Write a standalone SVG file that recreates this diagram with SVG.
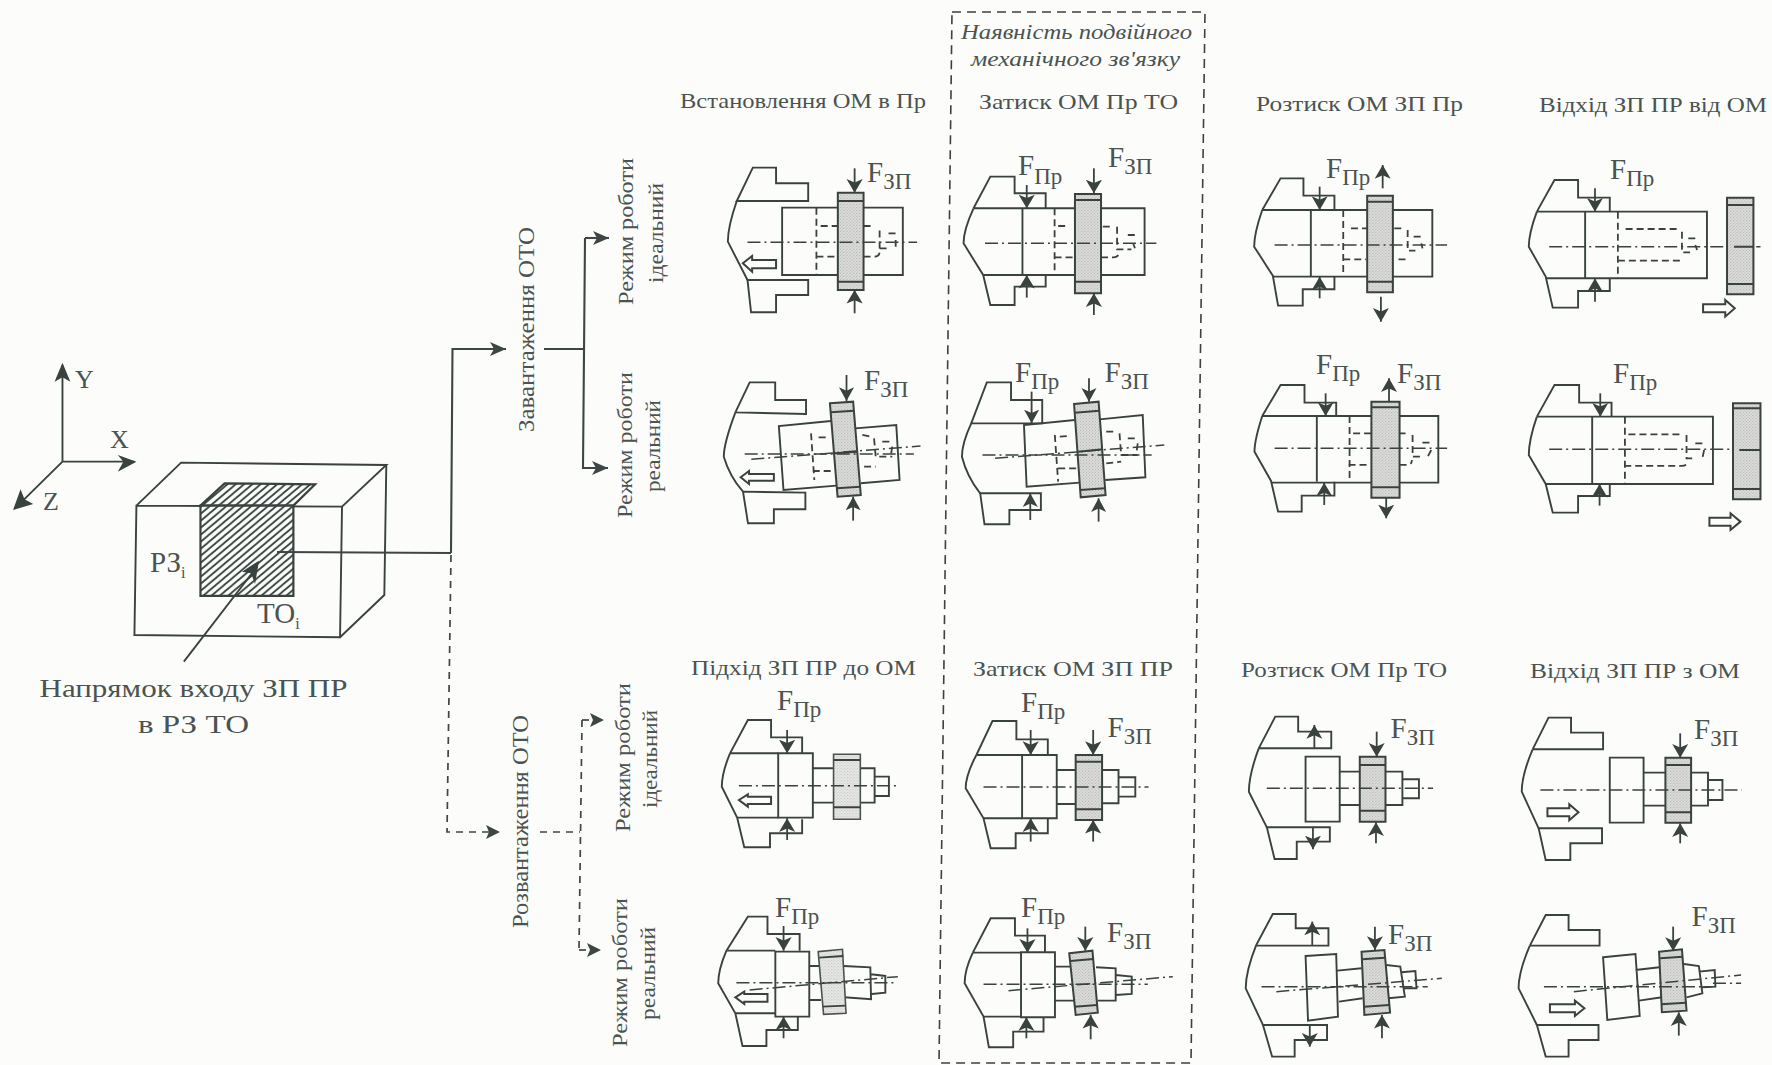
<svg xmlns="http://www.w3.org/2000/svg" width="1772" height="1065" viewBox="0 0 1772 1065">
<style>
text{font-family:"Liberation Serif","Times New Roman",serif;fill:#4b5351}
.h{font-size:22px}
.i{font-size:21px;font-style:italic}
.r{font-size:22px}
.f{font-size:29px}
.s{font-size:23px}
.l{fill:none;stroke:#39423f;stroke-width:1.9;vector-effect:non-scaling-stroke;stroke-linejoin:miter}
.t{fill:none;stroke:#39423f;stroke-width:2;vector-effect:non-scaling-stroke}
.d{fill:none;stroke:#39423f;stroke-width:1.8;stroke-dasharray:7 4;vector-effect:non-scaling-stroke}
.a{fill:none;stroke:#39423f;stroke-width:1.5;stroke-dasharray:13 4 2 4;vector-effect:non-scaling-stroke}
.g{fill:url(#stip);stroke:#39423f;stroke-width:2;vector-effect:non-scaling-stroke}
.g2{fill:url(#stip2);stroke:#4a5250;stroke-width:1.6;vector-effect:non-scaling-stroke}
.o{fill:#fdfdfb;stroke:#39423f;stroke-width:2;vector-effect:non-scaling-stroke}
.fa{fill:none;stroke:#39423f;stroke-width:1.8;vector-effect:non-scaling-stroke;marker-end:url(#mz)}
.c{fill:none;stroke:#3d4644;stroke-width:2.1;marker-end:url(#ma)}
.cn{fill:none;stroke:#3d4644;stroke-width:2.1}
.cd{fill:none;stroke:#3d4644;stroke-width:1.7;stroke-dasharray:7 6}
</style>
<defs>
<marker id="mz" markerUnits="userSpaceOnUse" markerWidth="46" markerHeight="50" refX="36" refY="22" orient="auto" viewBox="0 0 40 44"><path d="M36,22 L0,2 L9,22 L0,42 Z" fill="#39423f"/></marker>
<marker id="ma" markerUnits="userSpaceOnUse" markerWidth="18" markerHeight="16" refX="16" refY="8" orient="auto" viewBox="0 0 18 16"><path d="M16,8 L0,1 L4,8 L0,15 Z" fill="#3d4644"/></marker>
<pattern id="stip" patternUnits="userSpaceOnUse" width="9" height="9"><rect width="9" height="9" fill="#dcdcda"/><rect x="0" y="0" width="3" height="3" fill="#b4b6b3"/><rect x="5" y="4" width="3" height="3" fill="#bcbebb"/><rect x="2" y="7" width="2" height="2" fill="#c2c4c1"/></pattern>
<pattern id="stip2" patternUnits="userSpaceOnUse" width="9" height="9"><rect width="9" height="9" fill="#e6e6e4"/><rect x="0" y="0" width="3" height="3" fill="#c6c8c5"/><rect x="5" y="4" width="3" height="3" fill="#ccceca"/></pattern>
<pattern id="hatch" patternUnits="userSpaceOnUse" width="21" height="21"><path d="M-5,26 L26,-5 M-5,5 L5,-5 M16,26 L26,16" stroke="#39423f" stroke-width="5" fill="none"/></pattern>
</defs>
<rect width="1772" height="1065" fill="#fcfdfb"/>

<g id="workpiece-block" transform="translate(0,340) scale(0.3954,0.3333)">
<path class="l" d="M158,365 V75"/><path class="l" d="M158,365 H340"/><path class="l" d="M158,365 L38,505"/>
<path d="M158,68 L138,125 L158,112 L178,125 Z M345,365 L298,345 L312,365 L298,395 Z M33,510 L84,492 L62,478 L52,448 Z" fill="#39423f"/>
<path class="l" d="M345,497 L865,500 L860,892 L340,885 Z M345,497 L458,368 L977,375 L865,500 M977,375 L972,765 L860,892"/>
<path d="M507,497 L568,430 L797,433 L742,497 Z" fill="url(#hatch)" stroke="#39423f" stroke-width="2.2" vector-effect="non-scaling-stroke"/>
<rect x="507" y="497" width="235" height="271" fill="#fcfdfb"/>
<rect x="507" y="497" width="235" height="271" fill="url(#hatch)" stroke="#39423f" stroke-width="2.2" vector-effect="non-scaling-stroke"/>
<path class="l" d="M465,965 L650,680"/><path d="M655,662 L612,695 L635,700 L645,732 Z" fill="#39423f"/>
</g>
<g id="axis-labels">
<text x="75" y="388" style="font-size:26px">Y</text><text x="110" y="448" style="font-size:26px">X</text><text x="43" y="510" style="font-size:26px">Z</text>
<text x="150" y="572" style="font-size:29px">РЗ<tspan style="font-size:16px" dy="6">і</tspan></text>
<text x="257" y="623" style="font-size:29px">ТО<tspan style="font-size:16px" dy="6">і</tspan></text>
<text x="39.5" y="697" style="font-size:25px" textLength="308" lengthAdjust="spacingAndGlyphs">Напрямок входу ЗП ПР</text>
<text x="138" y="733" style="font-size:25px" textLength="111" lengthAdjust="spacingAndGlyphs">в РЗ ТО</text>
</g>

<g id="connectors">
<path class="cn" d="M277,552 L451,553"/>
<path class="c" d="M451,553 L452.5,349 H506"/>
<path class="cn" d="M544,349 H585"/>
<path class="c" d="M585,238 H609"/><path class="c" d="M585,238 L583,468 H608"/>
<path class="cd" d="M451,555 L447,832 H498"/><path d="M500,832 L486,825 L489,832 L486,839 Z" fill="#3d4644"/>
<path class="cd" d="M540,832 H580"/>
<path class="cd" d="M582,720 L579,950"/>
<path class="cd" d="M582,720 H592"/><path d="M604,720 L590,713 L593,720 L590,727 Z" fill="#3d4644"/>
<path class="cd" d="M579,950 H588"/><path d="M601,950 L587,943 L590,950 L587,957 Z" fill="#3d4644"/>
</g>
<g id="group-labels">
<text transform="translate(534,432) rotate(-90)" textLength="205" lengthAdjust="spacingAndGlyphs" style="font-size:23px">Завантаження ОТО</text>
<text class="r" transform="translate(633,305) rotate(-90)" textLength="147" lengthAdjust="spacingAndGlyphs">Режим роботи</text>
<text class="r" transform="translate(663,283) rotate(-90)" textLength="100" lengthAdjust="spacingAndGlyphs">ідеальний</text>
<text class="r" transform="translate(632,518) rotate(-90)" textLength="146" lengthAdjust="spacingAndGlyphs">Режим роботи</text>
<text class="r" transform="translate(660,492) rotate(-90)" textLength="92" lengthAdjust="spacingAndGlyphs">реальний</text>
<text transform="translate(528,928) rotate(-90)" textLength="213" lengthAdjust="spacingAndGlyphs" style="font-size:23px">Розвантаження ОТО</text>
<text class="r" transform="translate(630,832) rotate(-90)" textLength="149" lengthAdjust="spacingAndGlyphs">Режим роботи</text>
<text class="r" transform="translate(657,808) rotate(-90)" textLength="98" lengthAdjust="spacingAndGlyphs">ідеальний</text>
<text class="r" transform="translate(627,1047) rotate(-90)" textLength="149" lengthAdjust="spacingAndGlyphs">Режим роботи</text>
<text class="r" transform="translate(655,1020) rotate(-90)" textLength="93" lengthAdjust="spacingAndGlyphs">реальний</text>
</g>
<g id="double-link-frame">
<path class="d" d="M952,12 H1205 L1191,1063 H939 Z" style="stroke-width:1.6;stroke-dasharray:9 6"/>
<text class="i" x="961" y="39" textLength="231" lengthAdjust="spacingAndGlyphs">Наявність подвійного</text>
<text class="i" x="971" y="66" textLength="209" lengthAdjust="spacingAndGlyphs">механічного зв'язку</text>
</g>
<g id="headers">
<text class="h" x="680" y="108" textLength="246" lengthAdjust="spacingAndGlyphs">Встановлення ОМ в Пр</text>
<text class="h" x="979" y="109" textLength="199" lengthAdjust="spacingAndGlyphs">Затиск ОМ Пр ТО</text>
<text class="h" x="1256" y="111" textLength="207" lengthAdjust="spacingAndGlyphs">Розтиск ОМ ЗП Пр</text>
<text class="h" x="1539" y="112" textLength="228" lengthAdjust="spacingAndGlyphs">Відхід ЗП ПР від ОМ</text>
<text class="h" x="691" y="675" textLength="225" lengthAdjust="spacingAndGlyphs">Підхід ЗП ПР до ОМ</text>
<text class="h" x="973" y="676" textLength="200" lengthAdjust="spacingAndGlyphs">Затиск ОМ ЗП ПР</text>
<text class="h" x="1241" y="677" textLength="206" lengthAdjust="spacingAndGlyphs">Розтиск ОМ Пр ТО</text>
<text class="h" x="1530" y="678" textLength="210" lengthAdjust="spacingAndGlyphs">Відхід ЗП ПР з ОМ</text>
</g>

<g id="p11" transform="translate(660,0) scale(0.3571,0.3333)">
<path class="l" d="M215,603 L260,503 H325 V550 H415 V603 Z"/>
<path class="l" d="M215,603 Q190,680 190,725 L245,840"/>
<path class="l" d="M245,840 H415 V885 H325 V937 H255 Z"/>
<rect class="l" x="342" y="623" width="338" height="202"/>
<path class="d" d="M438,623 V825 M450,678 H500 M570,678 H595 M438,770 H500 M570,770 H600 Q615,770 615,755 V680 M615,745 H640 M640,700 H660 M660,720 V740"/>
<rect class="g" x="498" y="578" width="72" height="292"/>
<path class="t" d="M498,603 H570 M498,845 H570"/>
<path class="a" d="M245,727 H720"/>
<path class="o" d="M232,790 L258,768 V780 H325 V805 H258 V815 Z"/>
<path class="fa" d="M545,505 V578"/><path class="fa" d="M545,940 V870"/>
</g>
<g id="p12" transform="translate(660,0) scale(0.3571,0.3333)">
<path class="l" d="M878,625 L925,530 H993 V580 H1080 V625 M878,625 H1357 V825 H905"/>
<path class="l" d="M878,625 Q850,690 850,730 L905,825 L925,915 H993 V860 H1080 V825"/>
<path class="l" d="M1015,625 V825"/>
<path class="d" d="M1105,625 V825 M1115,678 H1140 M1240,680 H1262 M1105,772 H1165 M1235,772 H1270 Q1285,772 1285,755 M1280,680 V748 H1320 M1310,705 H1330 M1325,730 L1330,745"/>
<rect class="g" x="1162" y="582" width="73" height="298"/>
<path class="t" d="M1162,600 H1235 M1162,845 H1235"/>
<path class="a" d="M910,730 H1390"/>
<path class="fa" d="M1215,505 V580"/><path class="fa" d="M1215,945 V880"/><path class="fa" d="M1027,555 V625"/><path class="fa" d="M1027,893 V825"/>
</g>
<g id="p13" transform="translate(1220,130) scale(0.3521,0.3333)">
<path class="l" d="M120,240 L172,145 H237 V197 H325 V240 M120,240 H603 V440 H150"/>
<path class="l" d="M120,240 Q97,310 97,350 L150,437 L165,527 H235 V478 H325 V440"/>
<path class="l" d="M258,240 V440"/>
<path class="d" d="M350,240 V440 M372,295 H420 M495,295 H520 M350,388 H415 M507,388 H530 M533,300 V362 H555 M550,320 H572 M572,340 L575,355"/>
<rect class="g" x="418" y="197" width="73" height="290"/>
<path class="t" d="M418,215 H491 M418,455 H491"/>
<path class="a" d="M155,345 H645"/>
<path class="fa" d="M462,175 V105"/><path class="fa" d="M457,500 V575"/><path class="fa" d="M283,170 V240"/><path class="fa" d="M283,505 V440"/>
</g>
<g id="p14" transform="translate(1220,130) scale(0.3521,0.3333)">
<path class="l" d="M900,245 L950,150 H1017 V203 H1107 V245 M900,245 H1383 V445 H925"/>
<path class="l" d="M900,245 Q877,310 877,350 L925,440 L945,533 H1017 V483 H1107 V445"/>
<path class="l" d="M1037,245 V445"/>
<path class="d" d="M1130,245 V445 M1152,297 H1300 M1130,392 H1310 M1312,305 V367 H1335 M1330,325 H1350 M1350,345 L1355,360"/>
<path class="a" d="M935,350 H1535"/>
<rect class="g" x="1440" y="203" width="75" height="290"/>
<path class="t" d="M1440,225 H1515 M1440,462 H1515 M1460,350 H1515"/>
<path class="o" d="M1462,535 L1435,510 V523 H1372 V547 H1435 V560 Z"/>
<path class="fa" d="M1065,175 V245"/><path class="fa" d="M1065,515 V445"/>
</g>
<g id="p21" transform="translate(680,340) scale(0.3317,0.3333)">
<path class="l" d="M167,217 L210,127 H287 V180 H380 V222 L167,217"/>
<path class="l" d="M167,217 Q132,310 132,350 Q150,410 190,455"/>
<path class="l" d="M190,455 L378,458 V508 H283 V550 H205 Z"/>
<path class="l" d="M455,243 L298,258 L312,450 L472,437 M528,265 L652,255 L662,420 L545,430"/>
<path class="d" d="M395,280 L405,420 M418,292 H445 M550,285 L575,290 M400,393 H455 M555,380 H590 M585,295 L590,350 H640 M610,305 H640 M640,320 L635,350"/>
<path class="g" d="M452,190 L522,185 L545,465 L475,470 Z"/>
<path class="t" d="M455,217 L524,212 M473,445 L543,440 M465,340 L535,335"/>
<path class="a" d="M195,342 H705"/><path class="a" d="M215,358 L725,318"/>
<path class="o" d="M183,412 L208,393 V402 H283 V422 H208 V432 Z"/>
<path class="fa" d="M502,105 V183"/><path class="fa" d="M522,542 V470"/>
</g>
<g id="p22" transform="translate(680,340) scale(0.3317,0.3333)">
<path class="l" d="M878,250 L925,127 H998 V180 H1092 V250 Z"/>
<path class="l" d="M878,250 Q850,310 850,350 Q865,410 905,460"/>
<path class="l" d="M905,460 H1088 V510 H993 V553 H918 Z"/>
<path class="l" d="M1190,240 L1037,255 L1045,440 L1205,428 M1265,238 L1395,225 L1403,412 L1282,420"/>
<path class="d" d="M1130,285 L1140,425 M1145,290 L1175,288 M1285,275 H1310 M1140,385 H1200 M1285,370 L1330,365 M1325,280 L1330,345 H1380 M1350,295 H1380 M1380,310 L1375,345"/>
<path class="g" d="M1188,192 L1262,185 L1283,465 L1208,472 Z"/>
<path class="t" d="M1190,218 L1264,212 M1206,450 L1281,445 M1200,335 L1275,328"/>
<path class="a" d="M912,345 H1422"/><path class="a" d="M950,355 L1460,315"/>
<path class="fa" d="M1233,115 V185"/><path class="fa" d="M1262,545 V475"/><path class="fa" d="M1060,155 V250"/><path class="fa" d="M1056,540 V460"/>
</g>
<g id="p23" transform="translate(1220,130) scale(0.3521,0.3333)">
<path class="l" d="M120,858 L172,765 H240 V818 H330 V858 M120,858 H620 V1058 H145"/>
<path class="l" d="M120,858 Q98,930 98,965 L145,1053 L165,1145 H232 V1097 H325 V1055"/>
<path class="l" d="M275,858 V1055"/>
<path class="d" d="M368,858 V1055 M378,910 H430 M510,910 H527 M365,1005 H425 M510,1005 H530 Q545,1005 545,990 M547,915 V980 H570 M575,938 H597 M600,960 L590,980"/>
<rect class="g" x="430" y="815" width="80" height="288"/>
<path class="t" d="M430,832 H510 M430,1072 H510"/>
<path class="a" d="M155,955 H645"/>
<path class="fa" d="M480,815 V745"/><path class="fa" d="M472,1105 V1165"/><path class="fa" d="M300,790 V858"/><path class="fa" d="M296,1125 V1058"/>
</g>
<g id="p24" transform="translate(1220,130) scale(0.3521,0.3333)">
<path class="l" d="M900,860 L950,765 H1020 V818 H1112 V860 M900,860 H1400 V1062 H925"/>
<path class="l" d="M900,860 Q877,930 877,975 L925,1062 L945,1148 H1017 V1098 H1107 V1062"/>
<path class="l" d="M1057,860 V1062"/>
<path class="d" d="M1150,860 V1062 M1160,913 H1305 M1148,1008 H1310 Q1328,1008 1328,995 M1325,915 V985 H1350 M1350,940 H1375 M1375,960 L1370,985"/>
<path class="a" d="M935,958 H1535"/>
<rect class="g" x="1457" y="820" width="78" height="288"/>
<path class="t" d="M1457,835 H1535 M1457,1077 H1535 M1475,960 H1535"/>
<path class="o" d="M1478,1175 L1450,1150 V1163 H1390 V1187 H1450 V1200 Z"/>
<path class="fa" d="M1080,790 V860"/><path class="fa" d="M1078,1127 V1062"/>
</g>
<g id="p31" transform="translate(680,660) scale(0.3571,0.3333)">
<path class="l" d="M140,280 L190,180 H255 V232 H342 V280 M140,280 H275 M160,473 H275"/>
<path class="l" d="M140,280 Q117,340 117,380 L160,473 L180,562 H252 V520 H342 V478"/>
<rect class="l" x="275" y="280" width="97" height="193"/>
<path class="l" d="M372,325 H430 M372,428 H430 M505,325 H545 V428 H505 M545,350 H585 V408 H545"/>
<rect class="g2" x="430" y="283" width="75" height="195"/>
<path class="l" d="M430,300 H505 M430,442 H505"/>
<path class="a" d="M165,377 H610"/>
<path class="o" d="M165,420 L190,403 V410 H255 V432 H190 V440 Z"/>
<path class="fa" d="M300,210 V280"/><path class="fa" d="M300,540 V475"/>
</g>
<g id="p32" transform="translate(680,660) scale(0.3571,0.3333)">
<path class="l" d="M830,285 L875,183 H942 V238 H1030 V285 M830,285 H958 M850,475 H958"/>
<path class="l" d="M830,285 Q800,345 800,385 L850,475 L870,565 H940 V520 H1030 V475"/>
<rect class="l" x="958" y="285" width="97" height="190"/>
<path class="l" d="M1055,330 H1108 M1055,432 H1108 M1182,330 H1228 V430 H1182 M1228,352 H1275 V410 H1228"/>
<rect class="g" x="1108" y="285" width="74" height="195"/>
<path class="t" d="M1108,305 H1182 M1108,448 H1182"/>
<path class="a" d="M850,381 H1312"/>
<path class="fa" d="M1157,210 V285"/><path class="fa" d="M1157,545 V480"/><path class="fa" d="M982,210 V285"/><path class="fa" d="M982,545 V475"/>
</g>
<g id="p33" transform="translate(1220,660) scale(0.3521,0.3333)">
<path class="l" d="M110,265 L157,170 H222 V215 H316 V265 H110"/>
<path class="l" d="M110,265 Q82,345 82,395 L133,502"/>
<path class="l" d="M133,502 H312 V545 H218 V597 H155 Z"/>
<rect class="l" x="243" y="290" width="97" height="195"/>
<path class="l" d="M340,335 H397 M340,435 H397 M470,335 H518 V435 H470 M518,358 H565 V415 H518"/>
<rect class="g" x="397" y="290" width="73" height="195"/>
<path class="t" d="M397,315 H470 M397,452 H470"/>
<path class="a" d="M133,385 H605"/>
<path class="fa" d="M445,215 V290"/><path class="fa" d="M443,550 V487"/><path class="fa" d="M268,265 V195"/><path class="fa" d="M264,500 V568"/>
</g>
<g id="p34" transform="translate(1220,660) scale(0.3521,0.3333)">
<path class="l" d="M888,268 L933,173 H997 V218 H1088 V268 H888"/>
<path class="l" d="M888,268 Q857,345 857,395 L905,505"/>
<path class="l" d="M905,505 H1085 V550 H995 V600 H925 Z"/>
<rect class="l" x="1107" y="293" width="96" height="195"/>
<path class="l" d="M1203,338 H1265 M1203,437 H1265 M1338,338 H1386 V437 H1338 M1386,360 H1427 V420 H1386"/>
<rect class="g" x="1265" y="293" width="73" height="195"/>
<path class="t" d="M1265,315 H1338 M1265,457 H1338"/>
<path class="a" d="M910,390 H1482"/>
<path class="o" d="M1018,457 L992,433 V445 H930 V469 H992 V481 Z"/>
<path class="fa" d="M1307,220 V293"/><path class="fa" d="M1307,550 V490"/>
</g>
<g id="p41" transform="translate(680,660) scale(0.3571,0.3333)">
<path class="l" d="M130,872 L190,770 H245 V822 H335 V872 M130,872 H267 M155,1060 H267"/>
<path class="l" d="M130,872 Q107,930 107,970 L155,1060 L175,1158 H242 V1110 H330 V1070"/>
<rect class="l" x="267" y="875" width="95" height="195"/>
<path class="l" d="M362,918 H390 M362,1020 H395 M458,918 L533,922 L535,1018 L460,1012 M535,943 L575,948 L575,998 L537,1002"/>
<path class="g2" d="M387,875 L455,868 L465,1060 L402,1063 Z"/>
<path class="l" d="M390,893 L457,888 M400,1040 L463,1037"/>
<path class="a" d="M158,968 H600"/><path class="a" d="M195,990 L610,950"/>
<path class="o" d="M155,1012 L180,995 V1002 H245 V1025 H180 V1032 Z"/>
<path class="fa" d="M290,798 V872"/><path class="fa" d="M290,1135 V1070"/>
</g>
<g id="p42" transform="translate(680,660) scale(0.3571,0.3333)">
<path class="l" d="M820,878 L870,775 H938 V827 H1022 V878 M820,878 H955 M850,1070 H955"/>
<path class="l" d="M820,878 Q797,930 797,970 L850,1070 L865,1162 H933 V1115 H1018 V1072"/>
<rect class="l" x="955" y="877" width="95" height="195"/>
<path class="l" d="M1050,920 H1095 M1050,1022 H1108 M1165,922 L1220,925 V1022 H1170 M1220,945 L1265,950 V1002 L1220,1005"/>
<path class="g" d="M1090,880 L1155,872 L1170,1058 L1108,1065 Z"/>
<path class="t" d="M1093,903 L1157,897 M1105,1040 L1168,1035"/>
<path class="a" d="M850,973 H1310"/><path class="a" d="M920,992 L1380,950"/>
<path class="fa" d="M973,805 V878"/><path class="fa" d="M970,1135 V1072"/><path class="fa" d="M1135,800 V872"/><path class="fa" d="M1150,1138 V1065"/>
</g>
<g id="p43" transform="translate(1220,660) scale(0.3521,0.3333)">
<path class="l" d="M103,855 L150,762 H215 V805 H308 V857 H103"/>
<path class="l" d="M103,855 Q73,935 73,985 L122,1095"/>
<path class="l" d="M122,1095 H304 V1140 H212 V1190 H148 Z"/>
<path class="l" d="M243,888 L330,882 L335,1070 L250,1082 Z M333,932 L402,925 M338,1025 L405,1015 M472,915 L512,920 L525,1010 L478,1015 M515,937 L555,933 L558,985 L522,985"/>
<path class="g" d="M402,875 L467,870 L483,1058 L410,1065 Z"/>
<path class="t" d="M405,898 L468,893 M410,1040 L480,1035"/>
<path class="a" d="M118,980 H590"/><path class="a" d="M160,995 L630,955"/>
<path class="fa" d="M440,800 V870"/><path class="fa" d="M460,1135 V1065"/><path class="fa" d="M262,855 V785"/><path class="fa" d="M255,1095 V1160"/>
</g>
<g id="p44" transform="translate(1220,660) scale(0.3521,0.3333)">
<path class="l" d="M880,857 L925,765 H990 V810 H1078 V857 H880"/>
<path class="l" d="M880,857 Q848,935 848,985 L900,1095"/>
<path class="l" d="M900,1095 H1075 V1140 H990 V1190 H925 Z"/>
<path class="l" d="M1088,892 L1180,882 L1192,1068 L1100,1080 Z M1180,930 L1248,922 M1190,1022 L1255,1012 M1318,912 L1360,918 L1370,1000 L1325,1012 M1360,935 L1405,930 L1407,980 L1368,982"/>
<path class="g" d="M1247,875 L1312,868 L1325,1052 L1255,1057 Z"/>
<path class="t" d="M1250,895 L1314,890 M1253,1033 L1323,1028"/>
<path class="a" d="M920,980 H1395"/><path class="a" d="M1005,995 L1480,945"/><path class="a" d="M1400,970 H1480"/>
<path class="o" d="M1035,1045 L1008,1022 V1033 H937 V1057 H1008 V1068 Z"/>
<path class="fa" d="M1287,800 V873"/><path class="fa" d="M1303,1127 V1057"/>
</g>

<g id="force-labels">
<text class="f" x="867" y="182">F<tspan class="s" dy="7">ЗП</tspan></text>
<text class="f" x="1018" y="175">F<tspan class="s" dy="9">Пр</tspan></text>
<text class="f" x="1108" y="167">F<tspan class="s" dy="7">ЗП</tspan></text>
<text class="f" x="1326" y="178">F<tspan class="s" dy="7">Пр</tspan></text>
<text class="f" x="1610" y="179">F<tspan class="s" dy="7">Пр</tspan></text>
<text class="f" x="1316" y="374">F<tspan class="s" dy="7">Пр</tspan></text>
<text class="f" x="1397" y="383">F<tspan class="s" dy="7">ЗП</tspan></text>
<text class="f" x="1613" y="383">F<tspan class="s" dy="7">Пр</tspan></text>
<text class="f" x="864" y="390">F<tspan class="s" dy="7">ЗП</tspan></text>
<text class="f" x="1015" y="382">F<tspan class="s" dy="7">Пр</tspan></text>
<text class="f" x="1104.5" y="382">F<tspan class="s" dy="7">ЗП</tspan></text>
<text class="f" x="777" y="710">F<tspan class="s" dy="7">Пр</tspan></text>
<text class="f" x="1021" y="712">F<tspan class="s" dy="7">Пр</tspan></text>
<text class="f" x="1107.6" y="737">F<tspan class="s" dy="7">ЗП</tspan></text>
<text class="f" x="775" y="917">F<tspan class="s" dy="7">Пр</tspan></text>
<text class="f" x="1021" y="917">F<tspan class="s" dy="7">Пр</tspan></text>
<text class="f" x="1107" y="942">F<tspan class="s" dy="7">ЗП</tspan></text>
<text class="f" x="1390.5" y="738">F<tspan class="s" dy="7">ЗП</tspan></text>
<text class="f" x="1694" y="739">F<tspan class="s" dy="7">ЗП</tspan></text>
<text class="f" x="1388" y="944">F<tspan class="s" dy="7">ЗП</tspan></text>
<text class="f" x="1691.5" y="926">F<tspan class="s" dy="7">ЗП</tspan></text>
</g>
</svg>
